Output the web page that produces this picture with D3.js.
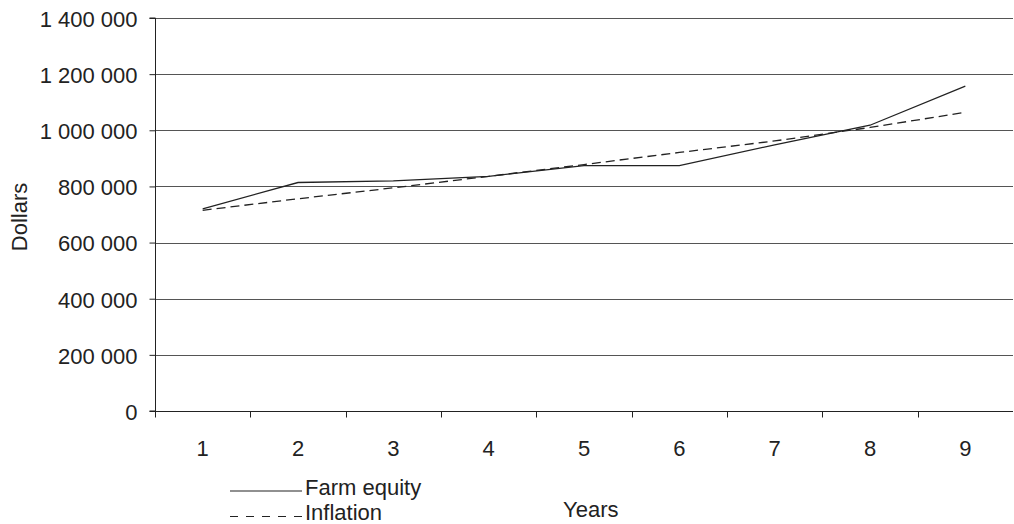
<!DOCTYPE html>
<html>
<head>
<meta charset="utf-8">
<script src="https://cdn.jsdelivr.net/npm/d3@7"></script>
<style>
  html, body { margin: 0; padding: 0; background: #fff; }
  svg { display: block; }
  text { font-family: "Liberation Sans", Arial, sans-serif; fill: #222; }
</style>
</head>
<body>
<svg id="chart" width="1014" height="524"></svg>
<script>
// Farm equity versus an inflation-adjusted path, by year
const years = [1, 2, 3, 4, 5, 6, 7, 8, 9];
const farmEquity = [720000, 814000, 820000, 836000, 874000, 874000, 948000, 1018000, 1157000];
const inflation  = [715000, 756000, 795000, 836000, 878000, 921000, 962000, 1010000, 1064000];
const yTicks = [0, 200000, 400000, 600000, 800000, 1000000, 1200000, 1400000];
const seriesNames = ["Farm equity", "Inflation"];

const svg = d3.select("#chart");
const plotLeft = 155, plotRight = 1013, plotTop = 18, plotBottom = 411;
const fontSize = 22;

const x = d3.scaleBand().domain(years).range([plotLeft, plotRight]).padding(0);
const y = d3.scaleLinear().domain([0, 1400000]).range([plotBottom, plotTop]);

const fmt = v => d3.format(",")(v).replace(/,/g, " ");

// Horizontal gridlines
svg.append("g")
  .selectAll("line")
  .data(yTicks.filter(d => d > 0))
  .join("line")
  .attr("x1", plotLeft).attr("x2", plotRight)
  .attr("y1", d => Math.round(y(d)) + 0.5)
  .attr("y2", d => Math.round(y(d)) + 0.5)
  .attr("stroke", "#555").attr("stroke-width", 1);

// Y axis
const yAxis = svg.append("g")
  .attr("transform", `translate(${plotLeft + 0.5},0)`)
  .call(d3.axisLeft(y).tickValues(yTicks).tickFormat(fmt).tickSize(6).tickPadding(12))
  .call(g => g.select(".domain").attr("stroke", "#222").attr("d", `M-6,${plotTop}H0V${plotBottom}H-6`));
yAxis.selectAll(".tick line").attr("stroke", "#222");
yAxis.selectAll(".tick text")
  .attr("font-size", fontSize)
  .attr("font-family", "Liberation Sans, Arial, sans-serif")
  .attr("fill", "#222")
  .attr("dy", "0.38em");

// X axis: ticks on category boundaries, labels at category centres
const xAxisG = svg.append("g").attr("transform", `translate(0,${plotBottom + 0.5})`);
xAxisG.append("line")
  .attr("x1", plotLeft).attr("x2", plotRight).attr("y1", 0).attr("y2", 0)
  .attr("stroke", "#222").attr("stroke-width", 1);
xAxisG.selectAll("line.tk")
  .data(years)
  .join("line")
  .attr("class", "tk")
  .attr("x1", d => Math.round(x(d)) + 0.5)
  .attr("x2", d => Math.round(x(d)) + 0.5)
  .attr("y1", 0).attr("y2", 6)
  .attr("stroke", "#222");
xAxisG.selectAll("text")
  .data(years)
  .join("text")
  .attr("x", d => x(d) + x.bandwidth() / 2)
  .attr("y", 44)
  .attr("text-anchor", "middle")
  .attr("font-size", fontSize)
  .text(d => d);

// Axis titles
svg.append("text")
  .attr("transform", "translate(27,217) rotate(-90)")
  .attr("text-anchor", "middle")
  .attr("font-size", fontSize)
  .text("Dollars");
svg.append("text")
  .attr("x", 563).attr("y", 517)
  .attr("font-size", fontSize)
  .text("Years");

// Series lines
const line = d3.line()
  .x((d, i) => x(years[i]) + x.bandwidth() / 2)
  .y(d => y(d));

svg.append("path")
  .datum(farmEquity)
  .attr("d", line)
  .attr("fill", "none")
  .attr("stroke", "#222")
  .attr("stroke-width", 1.3);

svg.append("path")
  .datum(inflation)
  .attr("d", line)
  .attr("fill", "none")
  .attr("stroke", "#222")
  .attr("stroke-width", 1.3)
  .attr("stroke-dasharray", "9,5");

// Legend
const legend = svg.append("g");
const legendRows = [
  { name: seriesNames[0], y: 491, dash: null, ty: 495 },
  { name: seriesNames[1], y: 516.5, dash: "8,8", ty: 520 }
];
legendRows.forEach(r => {
  legend.append("line")
    .attr("x1", 230).attr("x2", 302)
    .attr("y1", r.y).attr("y2", r.y)
    .attr("stroke", "#222").attr("stroke-width", 1.2)
    .attr("stroke-dasharray", r.dash);
  legend.append("text")
    .attr("x", 305).attr("y", r.ty)
    .attr("font-size", fontSize)
    .text(r.name);
});
</script>
</body>
</html>
